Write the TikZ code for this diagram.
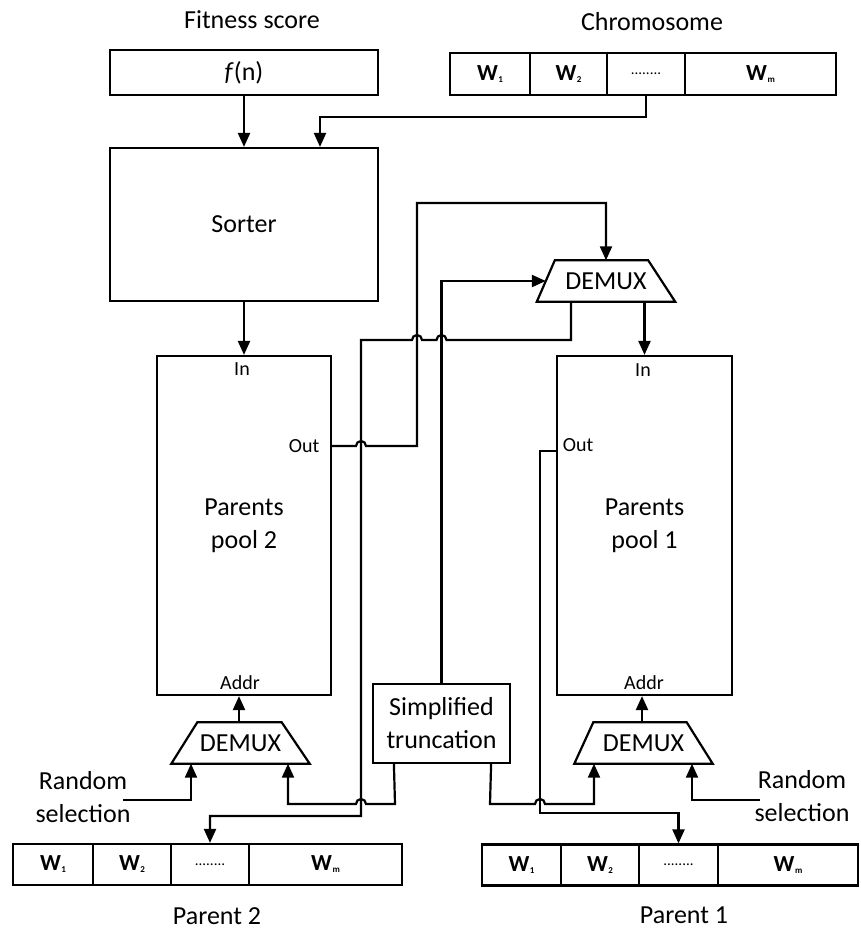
\documentclass[tikz,border=0pt]{standalone}
\usepackage{fontspec}
\setmainfont{Carlito}
\usetikzlibrary{arrows.meta,calc}
\newcommand\wsub[1]{W\kern0.5pt\raisebox{-2pt}{\fontsize{9}{9}\selectfont #1}}
\tikzset{
  arr/.style={line width=2.2pt, -{Triangle[length=14pt,width=12pt]}},
  box/.style={draw, line width=2.2pt, rectangle, inner sep=0pt},
  lbl/.style={font=\fontsize{26}{33}\selectfont, align=center, inner sep=1pt},
  port/.style={font=\fontsize{20}{24}\selectfont, inner sep=1pt},
  cell/.style={box, minimum height=41pt, font=\fontsize{23}{24}\selectfont\bfseries},
  dots/.style={box, minimum height=41pt, font=\fontsize{15}{16}\selectfont},
  muxbody/.style={rectangle, minimum width=138pt, minimum height=41pt,
    inner sep=0pt, font=\fontsize{26}{30}\selectfont},
  muxline/.style={line width=2.2pt, line join=miter}
}
\begin{document}
\begin{tikzpicture}[x=1pt,y=-1pt]
\useasboundingbox (0,0) rectangle (861,930);

% inputs
\node[lbl] (fittitle) at (252,20) {Fitness score};
\node[box, lbl, minimum width=268pt, minimum height=45pt] (fit) at (244,72.5) {\textit{f}(n)};
\node[lbl] (chrtitle) at (652,22) {Chromosome};
\node[cell, minimum width=80pt, minimum height=42pt] (c1) at (490,74) {\wsub{1}};
\node[cell, minimum width=77pt, minimum height=42pt] (c2) at (568.5,74) {\wsub{2}};
\node[dots, minimum width=78pt, minimum height=42pt] (c3) at (646,74) {........};
\node[cell, minimum width=151pt, minimum height=42pt] (c4) at (760.5,74) {\wsub{m}};

% sorter and pools
\node[box, lbl, minimum width=268pt, minimum height=153pt] (sorter) at (244,224.5) {Sorter};
\node[box, lbl, minimum width=174pt, minimum height=339pt] (pool2) at (244,525.5) {Parents\\pool 2};
\node[box, lbl, minimum width=175pt, minimum height=339pt] (pool1) at (644.5,525.5) {Parents\\pool 1};
\node[port] (p2in) at (242,369) {In};
\node[port] (p2out) at (304,446) {Out};
\node[port] (p2addr) at (240,683) {Addr};
\node[port] (p1in) at (643,370) {In};
\node[port] (p1out) at (578,445) {Out};
\node[port] (p1addr) at (644,683) {Addr};

% demultiplexers: text body plus trapezoid outline
\node[muxbody] (dmxT) at (606,281) {DEMUX};
\draw[muxline] (dmxT.south west) -- ($(dmxT.north west)+(18,0)$)
  -- ($(dmxT.north east)+(-27,0)$) -- (dmxT.south east) -- cycle;
\node[muxbody] (dmxL) at (240.5,743) {DEMUX};
\draw[muxline] (dmxL.south west) -- ($(dmxL.north west)+(26,0)$)
  -- ($(dmxL.north east)+(-28,0)$) -- (dmxL.south east) -- cycle;
\node[muxbody] (dmxR) at (643.5,743) {DEMUX};
\draw[muxline] (dmxR.south west) -- ($(dmxR.north west)+(19,0)$)
  -- ($(dmxR.north east)+(-26,0)$) -- (dmxR.south east) -- cycle;

\node[box, lbl, minimum width=137pt, minimum height=79pt] (trunc) at (441.5,723.5) {Simplified\\truncation};
\node[lbl] (randL) at (83,797) {Random\\selection};
\node[lbl] (randR) at (802,796) {Random\\selection};
\coordinate (rsL) at (123,800);
\coordinate (rsR) at (760,800);

% parents
\node[cell] (q1) at (53,864.5) [minimum width=80pt] {\wsub{1}};
\node[cell] (q2) at (132,864.5) [minimum width=78pt] {\wsub{2}};
\node[dots] (q3) at (210,864.5) [minimum width=78pt] {........};
\node[cell] (q4) at (325.5,864.5) [minimum width=153pt] {\wsub{m}};
\node[lbl] (par2) at (217,916) {Parent 2};
\node[cell] (r1) at (521.5,865) [minimum width=79pt] {\wsub{1}};
\node[cell] (r2) at (600,865) [minimum width=78pt] {\wsub{2}};
\node[dots] (r3) at (678.5,865) [minimum width=79pt] {........};
\node[cell] (r4) at (788,865) [minimum width=140pt] {\wsub{m}};
\node[lbl] (par1) at (684,915) {Parent 1};

% connectors
\draw[arr] (fit.south) -- (fit.south |- sorter.north);
\draw[arr] (c3.south) -- ++(0,21) -| ($(sorter.north)+(76,0)$);
\draw[arr] (sorter.south) -- (pool2.north);
\draw[arr] (pool2.east |- 0,446) -- (356,446) arc[start angle=180,end angle=0,radius=5pt]
  -- (417,446) -- (417,203) -| (dmxT.north);
\draw[arr] (trunc.north) |- ($(dmxT.west)+(9,0)$);
\draw[arr] (pool1.north |- dmxT.south) -- (pool1.north);
\draw[arr] ($(dmxT.south)+(-35,0)$) -- (571,340) -- (446.5,340)
  arc[start angle=0,end angle=180,radius=5pt] -- (422,340)
  arc[start angle=0,end angle=180,radius=5pt] -- (361,340) -- (361,816) -| (q3.north);
\draw[arr] (pool1.west |- 0,451) -- (540,451) -- (540,813) -| (r3.north);
\draw[arr] ($(trunc.south west)+(22,0)$) -- (395,804) -- (366,804)
  arc[start angle=0,end angle=180,radius=5pt] -- (288,804) -- (dmxL.south -| 288,0);
\draw[arr] ($(trunc.south east)+(-20,0)$) -- (490,804) -- (535,804)
  arc[start angle=180,end angle=0,radius=5pt] -- (594,804) -- (dmxR.south -| 594,0);
\draw[arr] (rsL) -| (dmxL.south -| 191,0);
\draw[arr] (rsR) -| (dmxR.south -| 692,0);
\draw[arr] (dmxL.north -| 239,0) -- (pool2.south -| 239,0);
\draw[arr] (dmxR.north -| 642,0) -- (pool1.south -| 642,0);
\end{tikzpicture}
\end{document}
